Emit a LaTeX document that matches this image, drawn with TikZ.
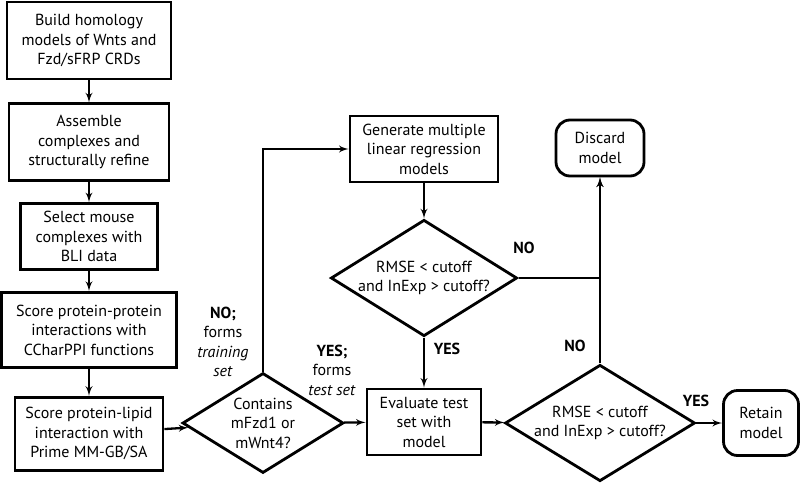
\documentclass[tikz,border=0pt]{standalone}
\usepackage{fontspec}
\setmainfont{PT Sans}
\usepackage{tikz}
\usetikzlibrary{positioning}
\usetikzlibrary{shapes,arrows}
\tikzstyle{block} = [rectangle, draw, line width=2.8pt, align=center,
    font=\fontsize{16}{19.5}\selectfont, inner sep=0pt]
\tikzstyle{decision} = [diamond, draw, line width=2.8pt, align=center,
    font=\fontsize{16}{19.5}\selectfont, inner sep=0pt, aspect=1.6]
\tikzstyle{terminal} = [rectangle, draw, line width=2.8pt, rounded corners=14pt,
    align=center, font=\fontsize{16}{19.5}\selectfont, inner sep=0pt]
\tikzstyle{answer} = [align=center, font=\fontsize{16}{19.5}\selectfont]
\tikzstyle{line} = [draw, line width=2.3pt, -latex']

\begin{document}
\begin{tikzpicture}[x=1pt, y=-1pt]
        \useasboundingbox (0,0) rectangle (800,482);
        \node [block, minimum width=164pt, minimum height=77pt] (build) at (89,40.5)
            {Build homology\\models of Wnts and\\Fzd/sFRP CRDs};
        \node [block, minimum width=160pt, minimum height=77pt, below=22pt of build] (assemble)
            {Assemble\\complexes and\\structurally refine};
        \node [block, minimum width=137pt, minimum height=66pt, below=20pt of assemble] (select)
            {Select mouse\\complexes with\\BLI data};
        \node [block, minimum width=175pt, minimum height=75pt, below=20pt of select] (ppi)
            {Score protein-protein\\interactions with\\CCharPPI functions};
        \node [block, minimum width=148pt, minimum height=73pt, below=27pt of ppi] (lipid)
            {Score protein-lipid\\interaction with\\Prime MM-GB/SA};
        \node [decision, minimum width=161pt, minimum height=100pt] (contains) at (263,423)
            {Contains\\mFzd1 or\\mWnt4?};
        \node [block, minimum width=148pt, minimum height=66pt] (generate) at (424,149)
            {Generate multiple\\linear regression\\models};
        \node [decision, minimum width=184pt, minimum height=110pt] (rmsea) at (424,278)
            {RMSE < cutoff\\and InExp > cutoff?};
        \node [block, minimum width=114pt, minimum height=66pt] (evaluate) at (424,422)
            {Evaluate test\\set with\\model};
        \node [decision, minimum width=190pt, minimum height=115pt] (rmseb) at (600,423)
            {RMSE < cutoff\\and InExp > cutoff?};
        \node [terminal, minimum width=88pt, minimum height=56pt] (discard) at (600,148)
            {Discard\\model};
        \node [terminal, minimum width=75pt, minimum height=65pt] (retain) at (761,423)
            {Retain\\model};
        % labels
        \node [answer] (notrain) at (223,342) {\textbf{NO;}\\forms\\\textit{training}\\\textit{set}};
        \node [answer] (yestest) at (332,370) {\textbf{YES;}\\forms\\\textit{test set}};
        \node [answer] (noa) at (524,248) {\textbf{NO}};
        \node [answer] (yesa) at (447,349) {\textbf{YES}};
        \node [answer] (nob) at (575,346) {\textbf{NO}};
        \node [answer] (yesb) at (696,401) {\textbf{YES}};
        % edges
        \path [line] (build) -- (assemble);
        \path [line] (assemble) -- (select);
        \path [line] (select) -- (ppi);
        \path [line] (ppi) -- (lipid);
        \path [line] (lipid) -- (contains);
        \path [line] (contains.north) |- (generate.west);
        \path [line] (contains) -- (evaluate);
        \path [line] (generate) -- (rmsea);
        \path [line] (rmsea) -- (evaluate);
        \path [line] (rmsea.east) -| (discard.south);
        \path [line] (evaluate) -- (rmseb);
        \path [line] (rmseb) -- (discard);
        \path [line] (rmseb) -- (retain);
    \end{tikzpicture}
\end{document}
